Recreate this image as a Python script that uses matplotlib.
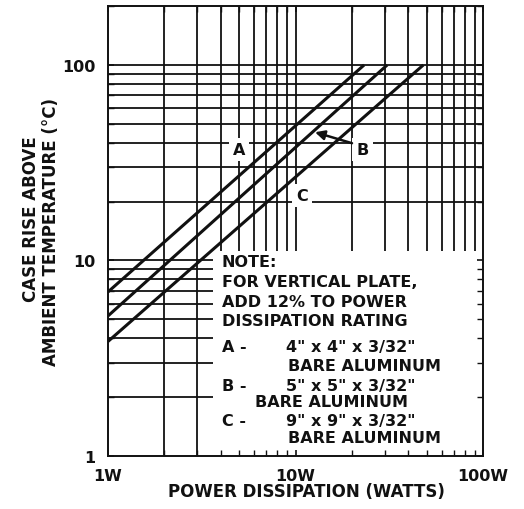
import matplotlib
matplotlib.use("Agg")
import matplotlib.pyplot as plt
from matplotlib.patches import Rectangle

# Heat sink curves: case rise (deg C) vs power dissipation (W), straight on log-log
curve_a_w = [1.0, 23.2]
curve_a_c = [6.9, 100.0]
curve_b_w = [1.0, 30.8]
curve_b_c = [5.2, 100.0]
curve_c_w = [1.0, 48.0]
curve_c_c = [3.85, 100.0]

grid_w = [2, 3, 4, 5, 6, 7, 8, 9, 10, 20, 30, 40, 50, 60, 70, 80, 90]
grid_c = [2, 3, 4, 5, 6, 7, 8, 9, 10, 20, 30, 40, 50, 60, 70, 80, 90, 100]

x_ticks = [1, 10, 100]
x_tick_labels = ["1W", "10W", "100W"]
y_ticks = [1, 10, 100]
y_tick_labels = ["1", "10", "100"]

note_lines = [
    ("NOTE:", 0.304, 0.433),
    ("FOR VERTICAL PLATE,", 0.304, 0.387),
    ("ADD 12% TO POWER", 0.304, 0.344),
    ("DISSIPATION RATING", 0.304, 0.302),
    ("A -", 0.304, 0.244),
    ('4" x 4" x 3/32"', 0.475, 0.244),
    ("BARE ALUMINUM", 0.48, 0.200),
    ("B -", 0.304, 0.156),
    ('5" x 5" x 3/32"', 0.475, 0.156),
    ("BARE ALUMINUM", 0.392, 0.120),
    ("C -", 0.304, 0.078),
    ('9" x 9" x 3/32"', 0.475, 0.078),
    ("BARE ALUMINUM", 0.48, 0.042),
]

FONT = "DejaVu Sans"
INK = "#111111"
TXT = 11.5

plt.rcParams.update({
    "font.family": FONT,
    "font.weight": "bold",
    "font.size": TXT,
})

fig = plt.figure(figsize=(5.24, 5.10), dpi=100)
ax = fig.add_axes([0.206, 0.104, 0.716, 0.882])
ax.set_xscale("log")
ax.set_yscale("log")
ax.set_xlim(1, 100)
ax.set_ylim(1, 200)

# hand-drawn style grid, kept under the note box
for w in grid_w:
    ax.axvline(w, color=INK, linewidth=1.3, zorder=1)
for c in grid_c:
    ax.axhline(c, color=INK, linewidth=1.3, zorder=1)

# white note panel in the lower right
ax.add_patch(Rectangle((3.63, 1), 100 - 3.63, 11.2 - 1, facecolor="white",
                       edgecolor="none", zorder=1.5))

for xs, ys in [(curve_a_w, curve_a_c), (curve_b_w, curve_b_c), (curve_c_w, curve_c_c)]:
    ax.plot(xs, ys, color=INK, linewidth=2.2, solid_capstyle="butt", zorder=2)

label_box = dict(facecolor="white", edgecolor="none", pad=3.0)
ax.text(5.0, 37.1, "A", ha="center", va="center", fontsize=TXT, color=INK,
        bbox=label_box, zorder=3)
ax.text(22.8, 37.0, "B", ha="center", va="center", fontsize=TXT, color=INK,
        bbox=label_box, zorder=3)
ax.text(10.8, 21.5, "C", ha="center", va="center", fontsize=TXT, color=INK,
        bbox=label_box, zorder=3)
ax.annotate("", xy=(12.7, 45.3), xytext=(20.0, 39.8),
            arrowprops=dict(arrowstyle="-|>", color=INK, lw=1.8,
                            mutation_scale=14, shrinkA=0, shrinkB=0),
            zorder=4)

for txt, fx, fy in note_lines:
    ax.text(fx, fy, txt, transform=ax.transAxes, ha="left", va="center",
            fontsize=TXT, color=INK, zorder=4)

ax.set_xticks(x_ticks)
ax.set_xticklabels(x_tick_labels)
ax.set_yticks(y_ticks)
ax.set_yticklabels(y_tick_labels)
ax.tick_params(which="both", direction="in", top=True, right=True,
               color=INK, labelcolor=INK, labelsize=TXT)
ax.tick_params(which="major", length=4, width=1.2)
ax.tick_params(which="minor", length=4, width=1.0)
ax.tick_params(axis="x", pad=9)
ax.tick_params(axis="y", pad=9)
ax.xaxis.set_minor_formatter(plt.NullFormatter())
ax.yaxis.set_minor_formatter(plt.NullFormatter())
for s in ax.spines.values():
    s.set_linewidth(1.4)
    s.set_color(INK)
    s.set_zorder(5)

fig.text(0.584, 0.035, "POWER DISSIPATION (WATTS)", ha="center", va="center",
         fontsize=12, color=INK)
fig.text(0.060, 0.57, "CASE RISE ABOVE", ha="center", va="center",
         rotation=90, fontsize=12, color=INK)
fig.text(0.098, 0.545, "AMBIENT TEMPERATURE (°C)", ha="center", va="center",
         rotation=90, fontsize=12, color=INK)

fig.savefig("out.png", dpi=100, facecolor="white")
